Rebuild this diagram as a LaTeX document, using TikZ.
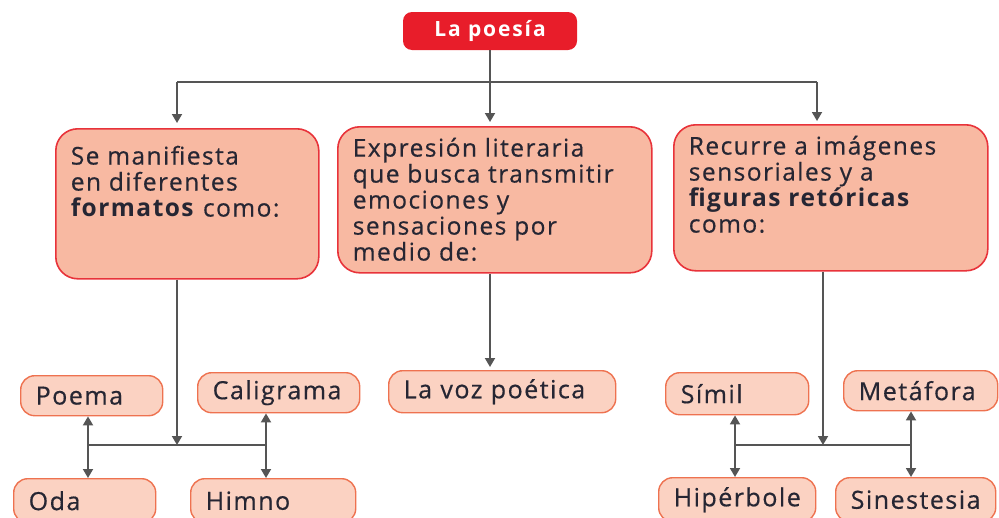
\documentclass[tikz,border=0pt]{standalone}
\usepackage{fontspec}
\setmainfont{Open Sans}[LetterSpace=6, UprightFeatures={FakeBold=0.5}]
\newfontfamily\topfont{Open Sans}[LetterSpace=9]
\usetikzlibrary{arrows.meta}
\definecolor{topred}{HTML}{E81D2A}
\definecolor{bigfill}{HTML}{F8B9A2}
\definecolor{bigdraw}{HTML}{E8333A}
\definecolor{smallfill}{HTML}{FBD2C2}
\definecolor{smalldraw}{HTML}{EE7250}
\definecolor{txt}{HTML}{262633}
\definecolor{ln}{HTML}{555555}
\tikzset{
  topbox/.style={fill=topred, rounded corners=9pt, minimum width=174pt, minimum height=38pt, inner sep=0pt, text=white, font=\topfont\fontsize{21}{22}\selectfont\bfseries},
  bigbox/.style={draw=bigdraw, fill=bigfill, line width=1.6pt, rounded corners=22pt, anchor=north west, inner xsep=15pt, inner ysep=10pt, text=txt, font=\fontsize{24.5}{26}\selectfont},
  smallbox/.style={draw=smalldraw, fill=smallfill, line width=1.4pt, rounded corners=14pt, anchor=north west, inner xsep=15pt, inner ysep=0pt, align=left, text=txt, font=\fontsize{25}{26}\selectfont},
  conn/.style={draw=ln, line width=1.8pt},
  arr/.style={conn, -{Triangle[length=9pt,width=10pt]}},
  darr/.style={conn, {Triangle[length=9pt,width=10pt]}-{Triangle[length=9pt,width=10pt]}},
}
\begin{document}
\begin{tikzpicture}[x=1pt,y=-1pt]
\useasboundingbox (0,0) rectangle (999,517);
\clip (0,0) rectangle (999,517);

% top
\node[topbox] (top) at (490,31) {La poesía};

% big boxes
\node[bigbox] (b1) at (55,128) {\parbox[c][130pt][t]{233pt}{\raggedright\vspace*{7pt}Se manifiesta\\ en diferentes\\ \textbf{formatos} como:}};
\node[bigbox] (b2) at (337,126) {\parbox[c][126pt][t]{284pt}{\raggedright\vspace*{1pt}Expresión literaria\\ que busca transmitir\\ emociones y\\ sensaciones por\\ medio de:}};
\node[bigbox] (b3) at (673,124) {\parbox[c][126pt][t]{284pt}{\raggedright\vspace*{1pt}Recurre a imágenes\\ sensoriales y a\\ \textbf{figuras retóricas}\\ como:}};

% small boxes
\node[smallbox, minimum width=142pt, minimum height=40pt, text width=112pt] (poema) at (20,375) {Poema};
\node[smallbox, minimum width=162pt, minimum height=40pt, text width=132pt] (cali) at (197,372) {Caligrama};
\node[smallbox, minimum width=142pt, minimum height=44pt, text width=112pt] (oda) at (13,478) {Oda};
\node[smallbox, minimum width=165pt, minimum height=44pt, text width=135pt] (himno) at (190,478) {Himno};
\node[smallbox, minimum width=227pt, minimum height=42pt, text width=197pt] (voz) at (388,370) {La voz poética};
\node[smallbox, minimum width=143pt, minimum height=42pt, text width=113pt] (simil) at (665,372) {Símil};
\node[smallbox, minimum width=154pt, minimum height=40pt, text width=124pt] (meta) at (843,370) {Metáfora};
\node[smallbox, minimum width=157pt, minimum height=44pt, text width=127pt] (hiper) at (658,477) {Hipérbole};
\node[smallbox, minimum width=160pt, minimum height=44pt, text width=130pt] (sine) at (835,477) {Sinestesia};

% top connectors
\coordinate (hub) at (490,82);
\coordinate (h1) at (177,82);
\coordinate (h3) at (817,82);
\draw[conn] (top.south) -- (hub);
\draw[conn] (h1) -- (h3);
\draw[arr, shorten >=5pt] (h1) -- (h1 |- b1.north);
\draw[arr, shorten >=4pt] (hub) -- (hub |- b2.north);
\draw[arr, shorten >=3pt] (h3) -- (h3 |- b3.north);

% left group
\coordinate (l1) at (177,445);
\coordinate (la) at (88,445);
\coordinate (lb) at (266,445);
\draw[arr] (b1.south -| l1) -- (l1);
\draw[conn] (la) -- (lb);
\draw[darr] (la |- poema.south) -- (la |- oda.north);
\draw[darr] (lb |- cali.south) -- (lb |- himno.north);

% middle
\coordinate (m1) at (490,367);
\draw[arr] (b2.south -| m1) -- (m1);

% right group
\coordinate (r1) at (823,445);
\coordinate (ra) at (735,445);
\coordinate (rb) at (911,445);
\draw[arr] (b3.south -| r1) -- (r1);
\draw[conn] (ra) -- (rb);
\draw[darr] (ra |- simil.south) -- (ra |- hiper.north);
\draw[darr] (rb |- meta.south) -- (rb |- sine.north);
\end{tikzpicture}
\end{document}
